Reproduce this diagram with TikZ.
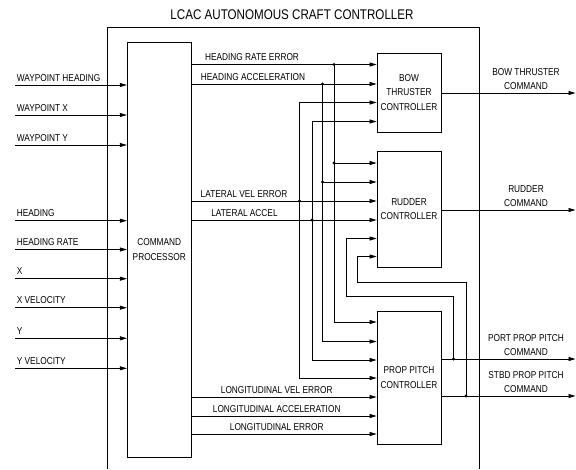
\documentclass[tikz,border=0pt]{standalone}
\usepackage{fontspec}
\setmainfont{Liberation Sans}[FakeStretch=0.83]
\usetikzlibrary{arrows.meta}

\begin{document}
\begin{tikzpicture}[x=1pt,y=-1pt,font=\fontsize{10}{14.5}\selectfont,line width=0.7pt,
   blk/.style={draw,line width=0.8pt,align=center,inner sep=0pt,minimum width=64pt},
   sig/.style={-{Triangle[length=7pt,width=4pt]}},
   lbl/.style={inner sep=0pt,anchor=base},
   dot/.style={circle,fill,inner sep=0pt,minimum size=3.4pt}]
  \useasboundingbox (0,0) rectangle (576,469);
  \node[font=\fontsize{14}{16}\selectfont] (title) at (292,15) {LCAC AUTONOMOUS CRAFT CONTROLLER};
  \draw (107.5,469) |- (479,27) -- (479,469);

  \node[blk,minimum height=414.5pt] (cp) at (159.25,249.75) {COMMAND\\PROCESSOR};
  \node[blk,minimum height=79pt] (bow) at (409,92.5) {BOW\\THRUSTER\\CONTROLLER};
  \node[blk,minimum height=115.5pt] (rud) at (409,209.25) {RUDDER\\CONTROLLER};
  \node[blk,minimum height=132.5pt] (prop) at (409,377.75) {PROP PITCH\\CONTROLLER};

  \foreach \y/\t [count=\i] in {85/WAYPOINT HEADING,115/WAYPOINT X,145/WAYPOINT Y,
      220.7/HEADING,249.5/HEADING RATE,278.7/X,307.7/X VELOCITY,338.3/Y,368.3/Y VELOCITY} {
    \coordinate (in\i) at (15,\y);
    \draw[sig] (in\i) -- (in\i -| cp.west);
    \node[lbl,anchor=base west] (inl\i) at (16.5,\y-4) {\t};
  }

  \foreach \y/\n/\x/\t in {64.5/hre/252/HEADING RATE ERROR,84/ha/253/HEADING ACCELERATION,
      201/lve/244/LATERAL VEL ERROR,220/la/244.5/LATERAL ACCEL,
      397/lgv/276.7/LONGITUDINAL VEL ERROR,416/lga/276.7/LONGITUDINAL ACCELERATION,
      434/lge/276.7/LONGITUDINAL ERROR} {
    \coordinate (\n) at (cp.east |- 0,\y);
    \node[lbl] (\n l) at (\x,\y-4) {\t};
  }
  \draw[sig] (hre) -- (hre -| bow.west);
  \draw[sig] (ha) -- (ha -| bow.west);
  \draw[sig] (lve) -- (lve -| rud.west);
  \draw[sig] (la) -- (la -| rud.west);
  \foreach \n in {lgv,lga,lge}
    \draw[sig] (\n) -- (\n -| prop.west);

  \foreach \x/\ya/\yb/\yc [count=\i] in {334/64.5/163/322,322.5/84/182/341.5} {
    \coordinate (ja\i) at (\x,\ya);
    \coordinate (jb\i) at (\x,\yb);
    \node[dot] at (ja\i) {};
    \node[dot] at (jb\i) {};
    \draw (ja\i) -- (jb\i);
    \draw[sig] (jb\i) -- (jb\i -| rud.west);
    \draw[sig] (jb\i) |- (prop.west |- 0,\yc);
  }
  \foreach \x/\ya/\yb/\yc [count=\i] in {299.5/102.5/201/378,312/121.5/220/360} {
    \coordinate (jc\i) at (\x,\yb);
    \node[dot] at (jc\i) {};
    \draw[sig] (jc\i) |- (bow.west |- 0,\ya);
    \draw[sig] (jc\i) |- (prop.west |- 0,\yc);
  }

  \foreach \y/\n/\ta in {93/bow/BOW THRUSTER,210/rud/RUDDER,359/prop/PORT PROP PITCH,396/prop/STBD PROP PITCH} {
    \coordinate (out\y) at (575.5,\y);
    \draw[sig] (\n.east |- out\y) -- (out\y);
    \node[lbl] at (526,\y-18) {\ta};
    \node[lbl] at (526,\y-4) {COMMAND};
  }

  \coordinate (fp) at (453.5,359);
  \coordinate (fs) at (466,396);
  \node[dot] at (fp) {};
  \node[dot] at (fs) {};
  \draw[sig] (fp) |- (346,296) |- (rud.west |- 0,238.5);
  \draw[sig] (fs) |- (357.5,282) |- (rud.west |- 0,256.5);
\end{tikzpicture}
\end{document}
